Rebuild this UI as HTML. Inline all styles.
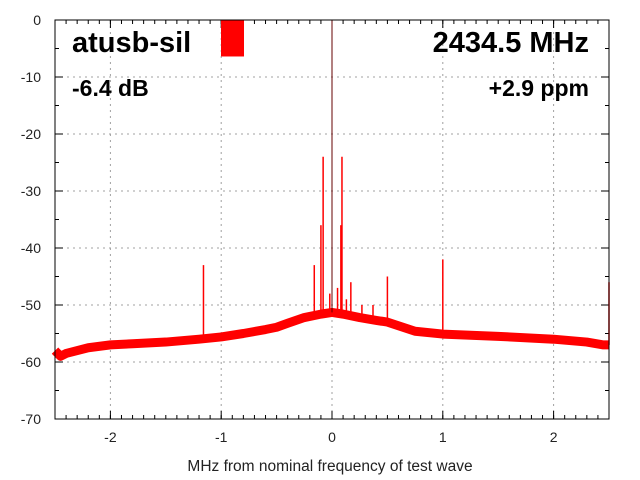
<!DOCTYPE html>
<html><head><meta charset="utf-8"><style>
body{margin:0;background:#fff;}
svg{display:block;font-family:"Liberation Sans",sans-serif;}
</style></head><body>
<svg id="c" width="640" height="480" xmlns="http://www.w3.org/2000/svg"></svg>
<script>
const xTicks=[-2,-1,0,1,2];
const xTickLabels=["-2","-1","0","1","2"];
const yTicks=[0,-10,-20,-30,-40,-50,-60,-70];
const yTickLabels=["0","-10","-20","-30","-40","-50","-60","-70"];
const floorFreq=[-2.5,-2.45,-2.4,-2.2,-2.0,-1.8,-1.5,-1.2,-1.0,-0.8,-0.6,-0.5,-0.4,-0.25,-0.1,0,0.1,0.25,0.4,0.5,0.75,1.0,1.5,2.0,2.3,2.45,2.5];
const floorDb=[-58,-59,-58.5,-57.5,-57,-56.8,-56.5,-56,-55.6,-55,-54.3,-53.9,-53.2,-52.2,-51.6,-51.3,-51.6,-52.2,-52.7,-53,-54.6,-55.1,-55.5,-56,-56.5,-57,-57];
const spikeFreq=[-1.16,-0.16,-0.1,-0.08,-0.02,0,0.05,0.08,0.09,0.13,0.17,0.27,0.37,0.5,1.0,2.5];
const spikeDb=[-43,-43,-36,-24,-48,0,-47,-36,-24,-49,-46,-50,-50,-45,-42,-46];
const levelDb=-6.4;

const svg=document.getElementById('c');
const NS='http://www.w3.org/2000/svg';
const L=55,R=609,T=20,B=419;
const X=v=>L+(v+2.5)/5*(R-L);
const Y=v=>T+(0-v)/70*(B-T);
function el(tag,attrs,parent){const e=document.createElementNS(NS,tag);for(const k in attrs)e.setAttribute(k,attrs[k]);(parent||svg).appendChild(e);return e;}

xTicks.forEach((t,i)=>{
  const g=el('line',{x1:X(t),x2:X(t),y1:T,y2:B,stroke:'#a0a0a0','stroke-dasharray':'2,4'});
  
  
  const tx=el('text',{x:X(t),y:442,'text-anchor':'middle','font-size':14,fill:'#222'});
  tx.textContent=xTickLabels[i];
  
  
  el('line',{x1:X(t),x2:X(t),y1:B,y2:B-8,stroke:'#000'});
  el('line',{x1:X(t),x2:X(t),y1:T,y2:T+8,stroke:'#000'});
});
for(let v=-2.5;v<=2.5001;v+=0.1){el('line',{x1:X(v),x2:X(v),y1:B,y2:B-4,stroke:'#000'});el('line',{x1:X(v),x2:X(v),y1:T,y2:T+4,stroke:'#000'});}
yTicks.forEach((t,i)=>{
  if(t!==0&&t!==-70){const g=el('line',{x1:L,x2:R,y1:Y(t),y2:Y(t),stroke:'#a0a0a0','stroke-dasharray':'2,4'});
  
  }
  const tx=el('text',{x:41,y:Y(t)+5,'text-anchor':'end','font-size':14,fill:'#222'});
  tx.textContent=yTickLabels[i];
  
  
  el('line',{x1:L,x2:L+8,y1:Y(t),y2:Y(t),stroke:'#000'});
  el('line',{x1:R,x2:R-8,y1:Y(t),y2:Y(t),stroke:'#000'});
});
for(let v=-5;v>-70;v-=10){el('line',{x1:L,x2:L+4,y1:Y(v),y2:Y(v),stroke:'#000'});el('line',{x1:R,x2:R-4,y1:Y(v),y2:Y(v),stroke:'#000'});}

const bar=el('rect',{x:221,y:T,width:23,height:Y(levelDb)-T,fill:'#ff0000'});



const pts=floorFreq.map((f,i)=>X(f)+','+Y(floorDb[i])).join(' ');
const band=el('polyline',{points:pts,fill:'none',stroke:'#ff0000','stroke-width':9,'stroke-linejoin':'round'});


function floorAt(f){for(let i=0;i<floorFreq.length-1;i++){if(f>=floorFreq[i]&&f<=floorFreq[i+1]){const r=(f-floorFreq[i])/(floorFreq[i+1]-floorFreq[i]);return floorDb[i]+r*(floorDb[i+1]-floorDb[i]);}}return floorDb[floorDb.length-1];}
spikeFreq.forEach((f,i)=>{
  const s=el('line',{x1:X(f),x2:X(f),y1:Y(floorAt(f)),y2:Y(spikeDb[i]),stroke:f===0?'#600':'#ff0000','stroke-width':f===0?1:1.5});
  
  
});

const fr=el('rect',{x:L,y:T,width:R-L,height:B-T,fill:'none',stroke:'#000'});



function txt(s,x,y,size,anchor,name,weight){const t=el('text',{x:x,y:y,'font-size':size,'text-anchor':anchor,'font-weight':weight||'normal',fill:'#000'});t.textContent=s;

return t;}
txt('atusb-sil',72,52,29,'start','device-title','bold');
txt('2434.5 MHz',589,52,29,'end','frequency-title','bold');
txt('-6.4 dB',72,96,23,'start','level-label','bold');
txt('+2.9 ppm',589,96,23,'end','ppm-label','bold');
const xt=txt('MHz from nominal frequency of test wave',330,471,15.5,'middle','x-axis-title');
xt.setAttribute('fill','#222');
</script>
</body></html>
